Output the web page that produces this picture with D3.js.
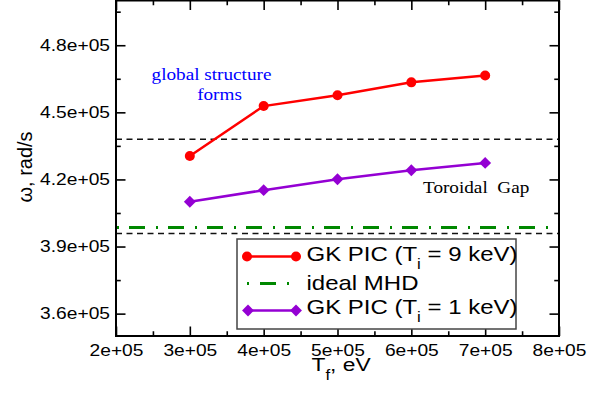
<!DOCTYPE html>
<html>
<head>
<meta charset="utf-8">
<script src="https://cdn.jsdelivr.net/npm/d3@7"></script>
<style>
  body { margin: 0; background: #fff; }
  svg { display: block; }
  text { white-space: pre; }
</style>
</head>
<body>
<div id="chart"></div>
<script>
// data
const tf = [3e5, 4e5, 5e5, 6e5, 7e5];
const gkPic9 = [4.305e5, 4.528e5, 4.576e5, 4.634e5, 4.665e5];
const gkPic1 = [4.100e5, 4.152e5, 4.201e5, 4.241e5, 4.274e5];
const idealMhd = [3.985e5];
const gapEdges = [4.38e5, 3.958e5];
const xMajor = [2e5, 3e5, 4e5, 5e5, 6e5, 7e5, 8e5];
const xMinor = [2.5e5, 3.5e5, 4.5e5, 5.5e5, 6.5e5, 7.5e5];
const yMajor = [3.6e5, 3.9e5, 4.2e5, 4.5e5, 4.8e5];
const yMinor = [3.75e5, 4.05e5, 4.35e5, 4.65e5, 4.95e5];

const width = 589, height = 394;
const margin = { top: 0.5, right: 30, bottom: 58, left: 116 };
const sx = 1.2; // the picture is a bit wider than tall

const svg = d3.select('#chart').append('svg')
    .attr('width', width)
    .attr('height', height);

const x = d3.scaleLinear().domain([2e5, 8e5]).range([margin.left, width - margin.right]);
const y = d3.scaleLinear().domain([3.5e5, 5e5]).range([height - margin.bottom, margin.top]);
const fmt = d => d3.format('.1e')(d).replace(/e\+(\d)$/, 'e+0$1');
const fmtX = d => d3.format('.0e')(d).replace(/e\+(\d)$/, 'e+0$1');

const x0 = x.range()[0], x1 = x.range()[1];
const yb = y.range()[0], yt = y.range()[1];

// reference lines (behind everything)
svg.selectAll('.gap').data(gapEdges).join('line')
    .attr('x1', x0).attr('x2', x1)
    .attr('y1', d => y(d)).attr('y2', d => y(d))
    .attr('stroke', '#111').attr('stroke-width', 1.5)
    .attr('stroke-dasharray', '6,4.5');

svg.selectAll('.mhd').data(idealMhd).join('line')
    .attr('x1', x0 + 1).attr('x2', x1)
    .attr('y1', d => y(d)).attr('y2', d => y(d))
    .attr('stroke', '#008800').attr('stroke-width', 3)
    .attr('stroke-dasharray', '2,10,16,11');

// axes: ticks point inward, mirrored on top/right
function axes(g, major, minor, make, len, labels, fmtFn, pad) {
    g.append('g').call(make(major).tickSize(-len).tickPadding(pad)
        .tickFormat(labels ? fmtFn : ''));
    g.append('g').call(make(minor).tickSize(-len / 2).tickFormat(''));
}
const gB = svg.append('g').attr('transform', `translate(0,${yb})`);
axes(gB, xMajor, xMinor, v => d3.axisBottom(x).tickValues(v), 9.5, true, fmtX, 9);
const gT = svg.append('g').attr('transform', `translate(0,${yt})`);
axes(gT, xMajor, xMinor, v => d3.axisTop(x).tickValues(v), 9.5, false);
const gL = svg.append('g').attr('transform', `translate(${x0},0)`);
axes(gL, yMajor, yMinor, v => d3.axisLeft(y).tickValues(v), 9.5, true, fmt, 5);
const gR = svg.append('g').attr('transform', `translate(${x1},0)`);
axes(gR, yMajor, yMinor, v => d3.axisRight(y).tickValues(v), 9.5, false);

svg.selectAll('.domain').remove();
svg.selectAll('.tick line').attr('stroke', '#000').attr('stroke-width', 1.6);
svg.selectAll('.tick text')
    .attr('font-family', 'Liberation Sans, Arial, sans-serif')
    .attr('font-size', 16)
    .attr('fill', '#000')
    .attr('transform', `scale(${sx},1)`);

svg.append('rect')
    .attr('x', x0).attr('y', yt)
    .attr('width', x1 - x0).attr('height', yb - yt)
    .attr('fill', 'none').attr('stroke', '#000').attr('stroke-width', 2);

// series
const line = d3.line().x(d => x(d[0])).y(d => y(d[1]));
const red = '#ff0000', purple = '#9400d3';
const pts9 = tf.map((t, i) => [t, gkPic9[i]]);
const pts1 = tf.map((t, i) => [t, gkPic1[i]]);

svg.append('path').datum(pts9).attr('d', line)
    .attr('fill', 'none').attr('stroke', red).attr('stroke-width', 2.5);
svg.selectAll('.c9').data(pts9).join('circle')
    .attr('cx', d => x(d[0])).attr('cy', d => y(d[1]))
    .attr('r', 5).attr('fill', red);

const diamond = d3.symbol().type(d3.symbolDiamond2).size(90);
svg.append('path').datum(pts1).attr('d', line)
    .attr('fill', 'none').attr('stroke', purple).attr('stroke-width', 2.5);
svg.selectAll('.d1').data(pts1).join('path')
    .attr('d', diamond)
    .attr('transform', d => `translate(${x(d[0])},${y(d[1])})`)
    .attr('fill', purple);

// text helper: horizontally stretched
function label(px, py, anchor, size, family, color) {
    return svg.append('g').attr('transform', `translate(${px},${py}) scale(${sx},1)`)
        .append('text')
        .attr('text-anchor', anchor)
        .attr('font-size', size)
        .attr('font-family', family)
        .attr('fill', color);
}
const serif = 'Liberation Serif, Times New Roman, serif';
const sans = 'Liberation Sans, Arial, sans-serif';

label(211.5, 80, 'middle', 16, serif, '#0000ff').text('global structure');
label(219.5, 100, 'middle', 16, serif, '#0000ff').text('forms');
label(423, 193, 'start', 16, serif, '#000').text('Toroidal  Gap');

// axis titles
const xt = label(311.5, 371, 'start', 19, sans, '#000');
xt.append('tspan').text('T');
xt.append('tspan').attr('dy', 9).attr('font-size', 14).text('f');
xt.append('tspan').attr('dy', -9).text(', eV');

svg.append('text')
    .attr('transform', 'translate(32,167) rotate(-90)')
    .attr('text-anchor', 'middle')
    .attr('font-size', 20)
    .attr('font-family', sans)
    .text('ω, rad/s');

// legend
const leg = svg.append('g');
leg.append('rect')
    .attr('x', 237).attr('y', 239).attr('width', 279).attr('height', 90)
    .attr('fill', '#fff').attr('stroke', '#444').attr('stroke-width', 1.5);

leg.append('line').attr('x1', 247).attr('x2', 296).attr('y1', 256.5).attr('y2', 256.5)
    .attr('stroke', red).attr('stroke-width', 2.5);
leg.selectAll('.lc').data([247, 296]).join('circle')
    .attr('cx', d => d).attr('cy', 256.5).attr('r', 5).attr('fill', red);

leg.append('line').attr('x1', 247).attr('x2', 296).attr('y1', 283.5).attr('y2', 283.5)
    .attr('stroke', '#008800').attr('stroke-width', 3)
    .attr('stroke-dasharray', '2,11,16,11');

leg.append('line').attr('x1', 248).attr('x2', 296).attr('y1', 310.5).attr('y2', 310.5)
    .attr('stroke', purple).attr('stroke-width', 2.5);
leg.selectAll('.ld').data([248, 296]).join('path')
    .attr('d', diamond)
    .attr('transform', d => `translate(${d},310.5)`)
    .attr('fill', purple);

const legendRows = [
    { y: 261, pre: 'GK PIC (T', sub: 'i', post: ' = 9 keV)' },
    { y: 290, pre: 'ideal MHD' },
    { y: 314, pre: 'GK PIC (T', sub: 'i', post: ' = 1 keV)' }
];
legendRows.forEach(r => {
    const t = label(306.5, r.y, 'start', 20, sans, '#000');
    t.append('tspan').text(r.pre);
    if (r.sub) {
        t.append('tspan').attr('dy', 8).attr('font-size', 14).text(r.sub);
        t.append('tspan').attr('dy', -8).text(r.post);
    }
});
</script>
</body>
</html>
